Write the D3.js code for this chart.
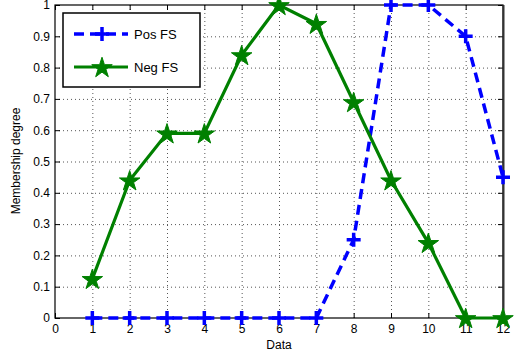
<!DOCTYPE html>
<html><head><meta charset="utf-8">
<script src="https://cdn.jsdelivr.net/npm/d3@7"></script>
<style>body{margin:0;background:#fff}svg{display:block;font-family:"Liberation Sans",Arial,sans-serif}</style>
</head><body><svg id="c" width="520" height="355"></svg>
<script>
const xValues = [1,2,3,4,5,6,7,8,9,10,11,12];
const posFS = [0,0,0,0,0,0,0,0.25,1,1,0.9,0.45];
const negFS = [0.125,0.44,0.59,0.59,0.84,1.0,0.94,0.69,0.44,0.24,0,0];
const xTicks = [0,1,2,3,4,5,6,7,8,9,10,11,12];
const yTicks = [0,0.1,0.2,0.3,0.4,0.5,0.6,0.7,0.8,0.9,1];
const seriesNames = ["Pos FS","Neg FS"];

const svg = d3.select("#c");
const L=55,R=503,T=5,B=318;
const x = d3.scaleLinear().domain([0,12]).range([L,R]);
const y = d3.scaleLinear().domain([0,1]).range([B,T]);

// grid
const g = svg.append("g");
g.selectAll(".gx").data(xTicks.slice(1,-1)).enter().append("line")
 .attr("x1",d=>x(d)+0.5).attr("x2",d=>x(d)+0.5).attr("y1",T).attr("y2",B)
 .attr("stroke","#555").attr("stroke-width",1).attr("stroke-dasharray","1,3");
g.selectAll(".gy").data(yTicks.slice(1,-1)).enter().append("line")
 .attr("y1",d=>y(d)+0.5).attr("y2",d=>y(d)+0.5).attr("x1",L).attr("x2",R)
 .attr("stroke","#555").attr("stroke-width",1).attr("stroke-dasharray","1,3");

// axes
const fmt = d=> d===0?"0":(d===1?"1":d3.format(".1f")(d).replace(/^0/,"0"));
const ax = d3.axisBottom(x).tickValues(xTicks).tickSize(-5).tickPadding(6).tickFormat(d3.format("d"));
const ay = d3.axisLeft(y).tickValues(yTicks).tickSize(-5).tickPadding(5).tickFormat(fmt);
const axT = d3.axisTop(x).tickValues(xTicks).tickSize(-5).tickFormat("");
const ayR = d3.axisRight(y).tickValues(yTicks).tickSize(-5).tickFormat("");
function style(sel){sel.select(".domain").remove();sel.selectAll("line").attr("stroke","#000");
 sel.selectAll("text").attr("fill","#000").style("font-size","12px").style("font-family","'Liberation Sans',Arial,sans-serif");}
svg.append("g").attr("transform",`translate(0,${B})`).call(ax).call(style);
svg.append("g").attr("transform",`translate(${L},0)`).call(ay).call(style);
svg.append("g").attr("transform",`translate(0,${T})`).call(axT).call(style);
svg.append("g").attr("transform",`translate(${R},0)`).call(ayR).call(style);
svg.append("rect").attr("x",L).attr("y",T).attr("width",R-L).attr("height",B-T)
 .attr("fill","none").attr("stroke","#000").attr("stroke-width",1.2);
svg.append("line").attr("x1",R+0.5).attr("x2",R+0.5).attr("y1",T).attr("y2",B).attr("stroke","#333").attr("stroke-width",2);

// lines
const line = d3.line().x(d=>x(d[0])).y(d=>y(d[1]));
const posData = xValues.map((v,i)=>[v,posFS[i]]);
const negData = xValues.map((v,i)=>[v,negFS[i]]);
const blue="#0000ff", green="#008000";
svg.append("path").datum(posData).attr("d",line).attr("fill","none").attr("stroke",blue)
 .attr("stroke-width",3.5).attr("stroke-dasharray","10,6");
svg.append("path").datum(negData).attr("d",line).attr("fill","none").attr("stroke",green)
 .attr("stroke-width",3.2);

const star = d3.symbol().type(d3.symbolStar).size(130);
function plus(sel,cx,cy){
 sel.append("path").attr("d",`M${cx-7},${cy}H${cx+7}M${cx},${cy-7}V${cy+7}`)
  .attr("stroke",blue).attr("stroke-width",3.5).attr("fill","none");
}
posData.forEach(d=>plus(svg,x(d[0]),y(d[1])));
svg.selectAll(".st").data(negData).enter().append("path").attr("d",star)
 .attr("transform",d=>`translate(${x(d[0])},${y(d[1])+1})`).attr("fill",green).attr("stroke",green).attr("stroke-width",1);

// legend
const lg = svg.append("g");
lg.append("rect").attr("x",63).attr("y",13).attr("width",137).attr("height",74)
 .attr("fill","#fff").attr("stroke","#000").attr("stroke-width",1.5);
lg.append("line").attr("x1",74).attr("x2",128).attr("y1",34).attr("y2",34)
 .attr("stroke",blue).attr("stroke-width",3.5).attr("stroke-dasharray","10,6");
plus(lg,102,34);
lg.append("line").attr("x1",74).attr("x2",128).attr("y1",67).attr("y2",67)
 .attr("stroke",green).attr("stroke-width",3.2);
lg.append("path").attr("d",star).attr("transform","translate(102,68)").attr("fill",green).attr("stroke",green);
lg.selectAll("text").data(seriesNames).enter().append("text")
 .attr("x",134).attr("y",(d,i)=>i===0?39:72).text(d=>d).style("font-size","13px").attr("fill","#000");

// labels
svg.append("text").attr("x",(L+R)/2).attr("y",349).attr("text-anchor","middle").style("font-size","12px").text("Data");
svg.append("text").attr("transform","translate(20,161) rotate(-90)").attr("text-anchor","middle").style("font-size","12px").text("Membership degree");
</script></body></html>
